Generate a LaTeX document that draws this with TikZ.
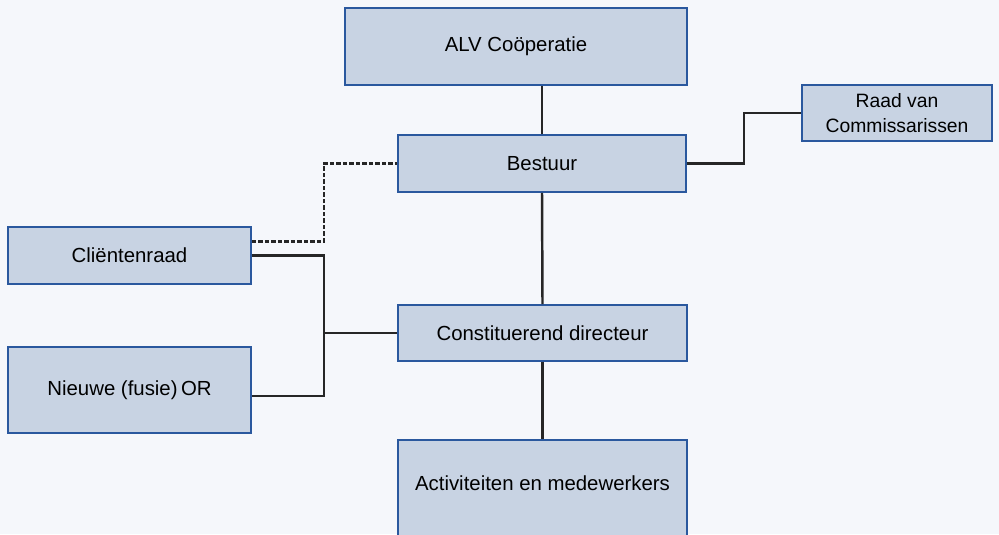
\documentclass[tikz,border=0pt]{standalone}
\usepackage{fontspec}
\setmainfont{Liberation Sans}

\definecolor{boxfill}{RGB}{200,211,227}
\definecolor{boxline}{RGB}{42,88,158}
\definecolor{paper}{RGB}{245,247,251}

\tikzset{
  orgbox/.style={draw=boxline, line width=1pt, fill=boxfill, inner sep=0pt,
    align=center, font=\fontsize{11.6}{14.2}\selectfont},
  link/.style={line width=1.4pt, black!85}
}

\begin{document}
\begin{tikzpicture}[x=0.02cm, y=-0.02cm]
        \fill[paper] (0,0) rectangle (999,534);
        \useasboundingbox (0,0) rectangle (999,534);

        \node[orgbox, minimum width=342*0.02cm, minimum height=77*0.02cm] (alv) at (516,46.5) {ALV Coöperatie};
        \node[orgbox, minimum width=288*0.02cm, minimum height=57*0.02cm] (bestuur) at (542,163.5) {Bestuur};
        \node[orgbox, minimum width=190*0.02cm, minimum height=56*0.02cm, font=\fontsize{11}{14.2}\selectfont] (raad) at (897,113) {Raad van\\Commissarissen};
        \node[orgbox, minimum width=243*0.02cm, minimum height=57*0.02cm] (client) at (129.5,255.5) {Cliëntenraad};
        \node[orgbox, minimum width=289*0.02cm, minimum height=56*0.02cm] (directeur) at (542.5,333) {Constituerend directeur};
        \node[orgbox, minimum width=243*0.02cm, minimum height=86*0.02cm] (nieuwe) at (129.5,390) {Nieuwe (fusie)\,OR};
        \node[orgbox, anchor=north, minimum width=289*0.02cm, text height=1.02cm, text depth=1.3cm] (activ) at (542.5,439) {Activiteiten en medewerkers};

        \coordinate (rjoint) at (744,0);
        \coordinate (ljoint) at (324,0);

        \draw[link] (bestuur.north) -- (bestuur.north |- alv.south);
        \draw[link] (bestuur.south) -- (directeur.north);
        \draw[link] (directeur.south) -- (directeur.south |- activ.north);
        \draw[link] (bestuur.east) -- (rjoint |- bestuur.east) |- (raad.west);

        \draw[link, dash pattern=on 2.4pt off 1.3pt] ([yshift=0.28cm]client.east) -| (ljoint |- bestuur.west) -- (bestuur.west);
        \draw[link] (client.east) -| ([yshift=-0.12cm]ljoint |- nieuwe.east) -- ([yshift=-0.12cm]nieuwe.east);
        \draw[link] (directeur.west) -- (directeur.west -| ljoint);
\end{tikzpicture}
\end{document}
